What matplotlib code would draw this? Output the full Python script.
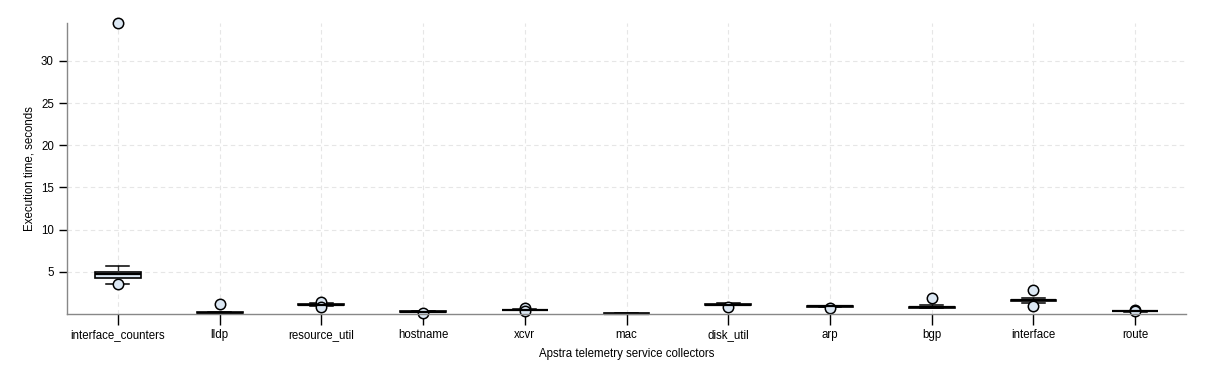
import matplotlib
matplotlib.use("Agg")
import matplotlib.pyplot as plt

plt.rcParams['font.family'] = ['Liberation Sans', 'DejaVu Sans']

# collectors and their box stats (seconds)
collectors = ['interface_counters', 'lldp', 'resource_util', 'hostname', 'xcvr',
              'mac', 'disk_util', 'arp', 'bgp', 'interface', 'route']
q1 = [4.30, 0.12, 1.05, 0.22, 0.45, 0.03, 1.10, 0.88, 0.75, 1.58, 0.30]
med = [4.70, 0.15, 1.12, 0.27, 0.47, 0.05, 1.12, 0.91, 0.78, 1.62, 0.33]
q3 = [4.95, 0.20, 1.20, 0.30, 0.50, 0.07, 1.18, 0.95, 0.85, 1.68, 0.36]
whislo = [3.60, 0.08, 0.98, 0.20, 0.43, 0.02, 1.05, 0.85, 0.72, 1.34, 0.27]
whishi = [5.65, 0.25, 1.30, 0.33, 0.55, 0.08, 1.25, 0.97, 1.10, 1.93, 0.40]
fliers = [[3.50, 34.5], [1.2], [1.45, 0.85], [0.17], [0.68, 0.40], [],
          [0.87], [0.68], [1.93], [2.90, 0.92], [0.45, 0.30]]

stats = []
for i, name in enumerate(collectors):
    stats.append({'label': name, 'q1': q1[i], 'med': med[i], 'q3': q3[i],
                  'whislo': whislo[i], 'whishi': whishi[i], 'fliers': fliers[i]})

fig = plt.figure(figsize=(12.26, 3.82), dpi=100)
ax = fig.add_axes([0.0547, 0.178, 0.9127, 0.762])

ax.bxp(stats, widths=0.45, patch_artist=True, showfliers=True,
       boxprops=dict(facecolor='#dce8f4', edgecolor='black', linewidth=1.2),
       medianprops=dict(color='black', linewidth=1.6),
       whiskerprops=dict(color='#333333', linewidth=1.0),
       capprops=dict(color='black', linewidth=1.1),
       flierprops=dict(marker='o', markerfacecolor='#dce8f4', markeredgecolor='black',
                       markersize=7.5, markeredgewidth=1.1))

for line in ax.lines:
    line.set_clip_on(False)

ax.set_xlim(0.5, len(collectors) + 0.5)
ax.set_ylim(0, 34.5)
ax.set_yticks([5, 10, 15, 20, 25, 30])

ax.grid(True, linestyle=(0, (4, 3)), color='#e6e6e6', linewidth=0.8)
ax.set_axisbelow(True)

for s in ['top', 'right']:
    ax.spines[s].set_visible(False)
for s in ['left', 'bottom']:
    ax.spines[s].set_color('#888888')
    ax.spines[s].set_linewidth(1.0)

ax.tick_params(axis='both', labelsize=8.3, colors='black', length=6, width=1)
ax.tick_params(axis='x', length=8, pad=3)
ax.set_xlabel('Apstra telemetry service collectors', fontsize=8.3, labelpad=5)
ax.set_ylabel('Execution time, seconds', fontsize=8.3, labelpad=4)

fig.savefig('out.png', dpi=100)
